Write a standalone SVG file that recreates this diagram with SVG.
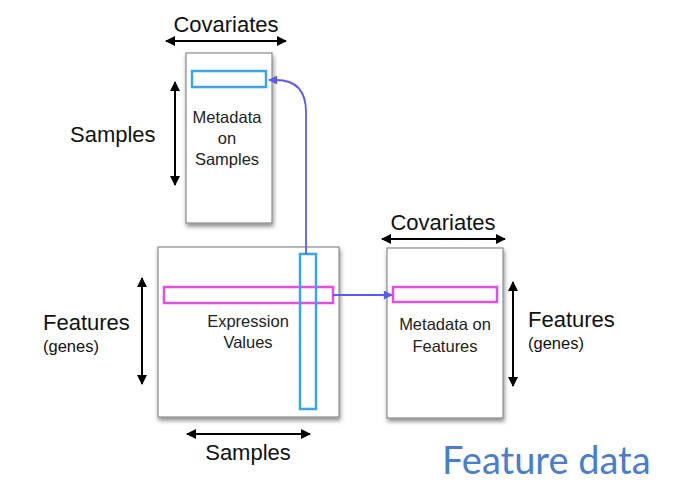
<svg xmlns="http://www.w3.org/2000/svg" width="693" height="489" viewBox="0 0 693 489">
<style>
.box{fill:#fff;stroke:#8a8a8a;stroke-width:1.2;filter:url(#sh)}
.lbl{font-family:"Liberation Sans",Arial,sans-serif;fill:#111}
.big{font-size:22px}
.mid{font-size:16.5px}
.in{font-size:16.5px;text-anchor:middle;fill:#222}
.dim{stroke:#000;stroke-width:2;fill:none;marker-start:url(#ab);marker-end:url(#ab)}
.cy{fill:none;stroke:#3ba6e2;stroke-width:2.5}
.mg{fill:none;stroke:#e24fe0;stroke-width:2.5}
.con{fill:none;stroke:#5a5cf0;stroke-width:1.8;marker-end:url(#au)}
</style>
<defs>
<filter id="sh" x="-10%" y="-10%" width="130%" height="130%">
<feDropShadow dx="1" dy="3" stdDeviation="2" flood-color="#000" flood-opacity="0.45"/>
</filter>
<marker id="ab" viewBox="0 0 10 10" refX="9" refY="5" markerWidth="12" markerHeight="10" markerUnits="userSpaceOnUse" orient="auto-start-reverse">
<path d="M0,0 L10,5 L0,10 z" fill="#000"/>
</marker>
<marker id="au" viewBox="0 0 10 10" refX="9" refY="5" markerWidth="10" markerHeight="9" markerUnits="userSpaceOnUse" orient="auto">
<path d="M0,0 L10,5 L0,10 z" fill="#5a5cf0"/>
</marker>
</defs>
<rect width="693" height="489" fill="#fff"/>

<g id="samples-meta">
<rect class="box" x="186" y="53" width="86" height="170"/>
<rect class="cy" x="192" y="71" width="74" height="16"/>
<text class="lbl in" x="227" y="123">Metadata</text>
<text class="lbl in" x="227" y="144">on</text>
<text class="lbl in" x="227" y="165">Samples</text>
<text class="lbl big" x="226" y="32" text-anchor="middle">Covariates</text>
<line class="dim" x1="166" y1="41" x2="286" y2="41"/>
<text class="lbl big" x="70" y="142">Samples</text>
<line class="dim" x1="175" y1="82" x2="175" y2="185"/>
</g>

<g id="expression">
<rect class="box" x="158" y="247" width="181" height="170"/>
<text class="lbl in" x="248" y="327">Expression</text>
<text class="lbl in" x="248" y="348">Values</text>
<rect class="mg" x="164" y="287" width="169" height="16"/>
<rect class="cy" x="300" y="254" width="16" height="155"/>
<text class="lbl big" x="43" y="330">Features</text>
<text class="lbl mid" x="43" y="352">(genes)</text>
<line class="dim" x1="142" y1="278" x2="142" y2="384"/>
<line class="dim" x1="187" y1="434" x2="310" y2="434"/>
<text class="lbl big" x="248" y="460" text-anchor="middle">Samples</text>
</g>

<g id="features-meta">
<rect class="box" x="387" y="248" width="116" height="170"/>
<rect class="mg" x="393" y="287" width="104" height="15"/>
<text class="lbl in" x="445" y="330">Metadata on</text>
<text class="lbl in" x="445" y="352">Features</text>
<text class="lbl big" x="443" y="230" text-anchor="middle">Covariates</text>
<line class="dim" x1="382" y1="239" x2="505" y2="239"/>
<line class="dim" x1="513" y1="282" x2="513" y2="386"/>
<text class="lbl big" x="528" y="327">Features</text>
<text class="lbl mid" x="528" y="349">(genes)</text>
</g>

<g id="connectors">
<path class="con" d="M306,254 V112 Q306,80 276,80 H269"/>
<path class="con" d="M333,295 H392"/>
</g>

<text x="442" y="474" font-family="Lato,'Open Sans',sans-serif" font-size="38" fill="#4a7dcb">Feature data</text>
</svg>
